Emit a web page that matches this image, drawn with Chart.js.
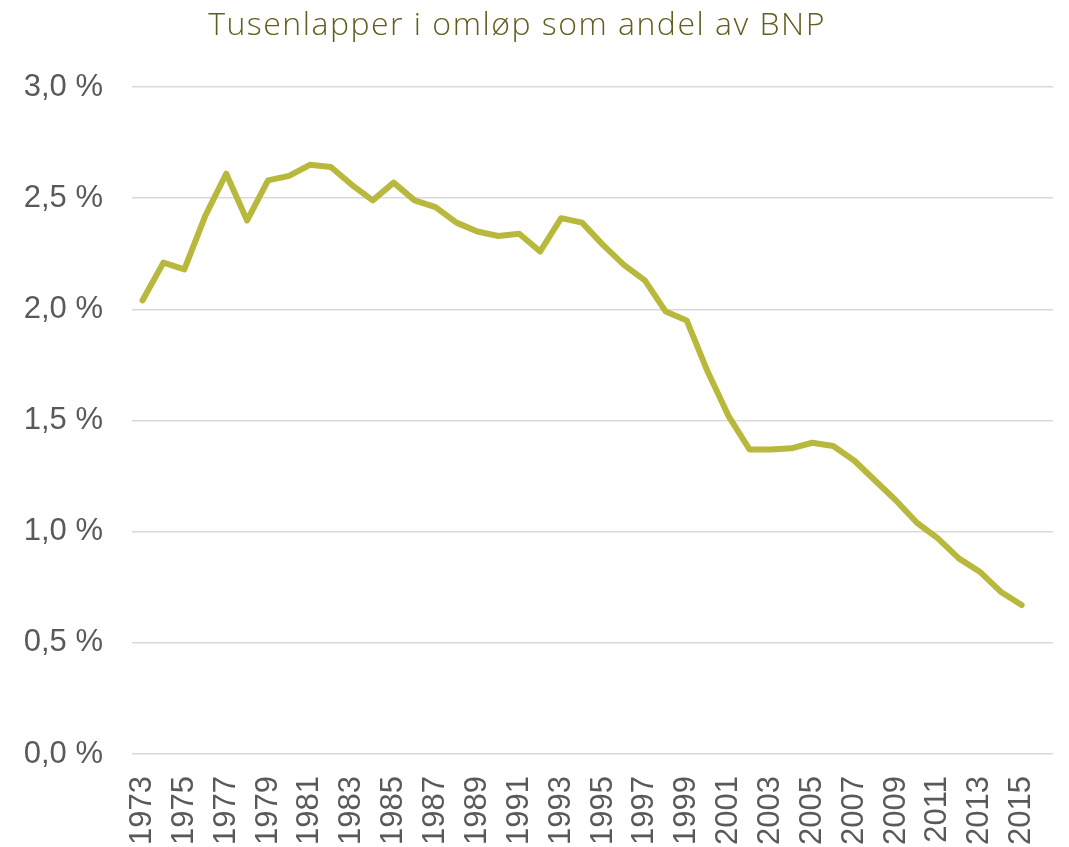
<!DOCTYPE html>
<html>
<head>
<meta charset="utf-8">
<script src="https://cdn.jsdelivr.net/npm/chart.js@4"></script>
<style>
  html, body { margin: 0; padding: 0; background: #fff; }
  #wrap { position: relative; width: 1069px; height: 847px; overflow: hidden; }
  #title {
    position: absolute; left: 0; top: 0px; width: 1034px; text-align: center;
    font-family: "Open Sans", sans-serif; font-weight: 300; font-size: 32px;
    letter-spacing: 1.5px;
    color: #5f5f1e; line-height: 46px; white-space: nowrap;
  }
</style>
</head>
<body>
<div id="wrap">
  <canvas id="chart" width="1069" height="847"></canvas>
  <div id="title">Tusenlapper i omløp som andel av BNP</div>
</div>
<script>
// årstall (siste kategori uten verdi)
const aar = [
  '1973','1974','1975','1976','1977','1978','1979','1980','1981','1982',
  '1983','1984','1985','1986','1987','1988','1989','1990','1991','1992',
  '1993','1994','1995','1996','1997','1998','1999','2000','2001','2002',
  '2003','2004','2005','2006','2007','2008','2009','2010','2011','2012',
  '2013','2014','2015','2016'
];

// tusenlapper i omløp, prosent av BNP
const andelBnp = [
  2.04, 2.21, 2.18, 2.42, 2.61, 2.40, 2.58, 2.60, 2.65, 2.64,
  2.56, 2.49, 2.57, 2.49, 2.46, 2.39, 2.35, 2.33, 2.34, 2.26,
  2.41, 2.39, 2.29, 2.20, 2.13, 1.99, 1.95, 1.72, 1.52, 1.37,
  1.37, 1.375, 1.40, 1.385, 1.32, 1.23, 1.14, 1.04, 0.97, 0.88,
  0.82, 0.73, 0.67, null
];

const yTicks = [0, 0.5, 1.0, 1.5, 2.0, 2.5, 3.0];

const ctx = document.getElementById('chart').getContext('2d');
new Chart(ctx, {
  type: 'line',
  data: {
    labels: aar,
    datasets: [{
      label: 'Tusenlapper i omløp',
      data: andelBnp,
      borderColor: '#b8b83c',
      borderWidth: 6,
      pointRadius: 0,
      tension: 0,
      fill: false,
      borderCapStyle: 'round',
      borderJoinStyle: 'round'
    }]
  },
  options: {
    responsive: false,
    animation: false,
    layout: { padding: { top: 87, right: 16, left: 0, bottom: 0 } },
    plugins: {
      legend: { display: false },
      title: { display: false },
      tooltip: { enabled: false }
    },
    scales: {
      x: {
        offset: true,
        grid: { display: false },
        border: { display: false },
        ticks: {
          autoSkip: false,
          minRotation: 90,
          maxRotation: 90,
          padding: 14,
          color: '#595959',
          font: { family: 'Liberation Sans, Arial, sans-serif', size: 31 },
          callback: function (val, i) { return i % 2 === 0 ? this.getLabelForValue(val) : ''; }
        },
        afterFit: (scale) => {
          scale.height = 93;
          scale.paddingLeft = 0;
          scale.paddingRight = 0;
        }
      },
      y: {
        min: 0,
        max: 3,
        afterBuildTicks: (scale) => { scale.ticks = yTicks.map(v => ({ value: v })); },
        grid: { color: '#d9d9d9', lineWidth: 1.5, drawTicks: false },
        border: { display: false },
        ticks: {
          padding: 29,
          color: '#595959',
          font: { family: 'Liberation Sans, Arial, sans-serif', size: 31 },
          callback: (v) => v.toFixed(1).replace('.', ',') + ' %'
        },
        afterFit: (scale) => {
          scale.width = 132;
          scale.paddingTop = 0;
          scale.paddingBottom = 0;
        }
      }
    }
  }
});
</script>
</body>
</html>
